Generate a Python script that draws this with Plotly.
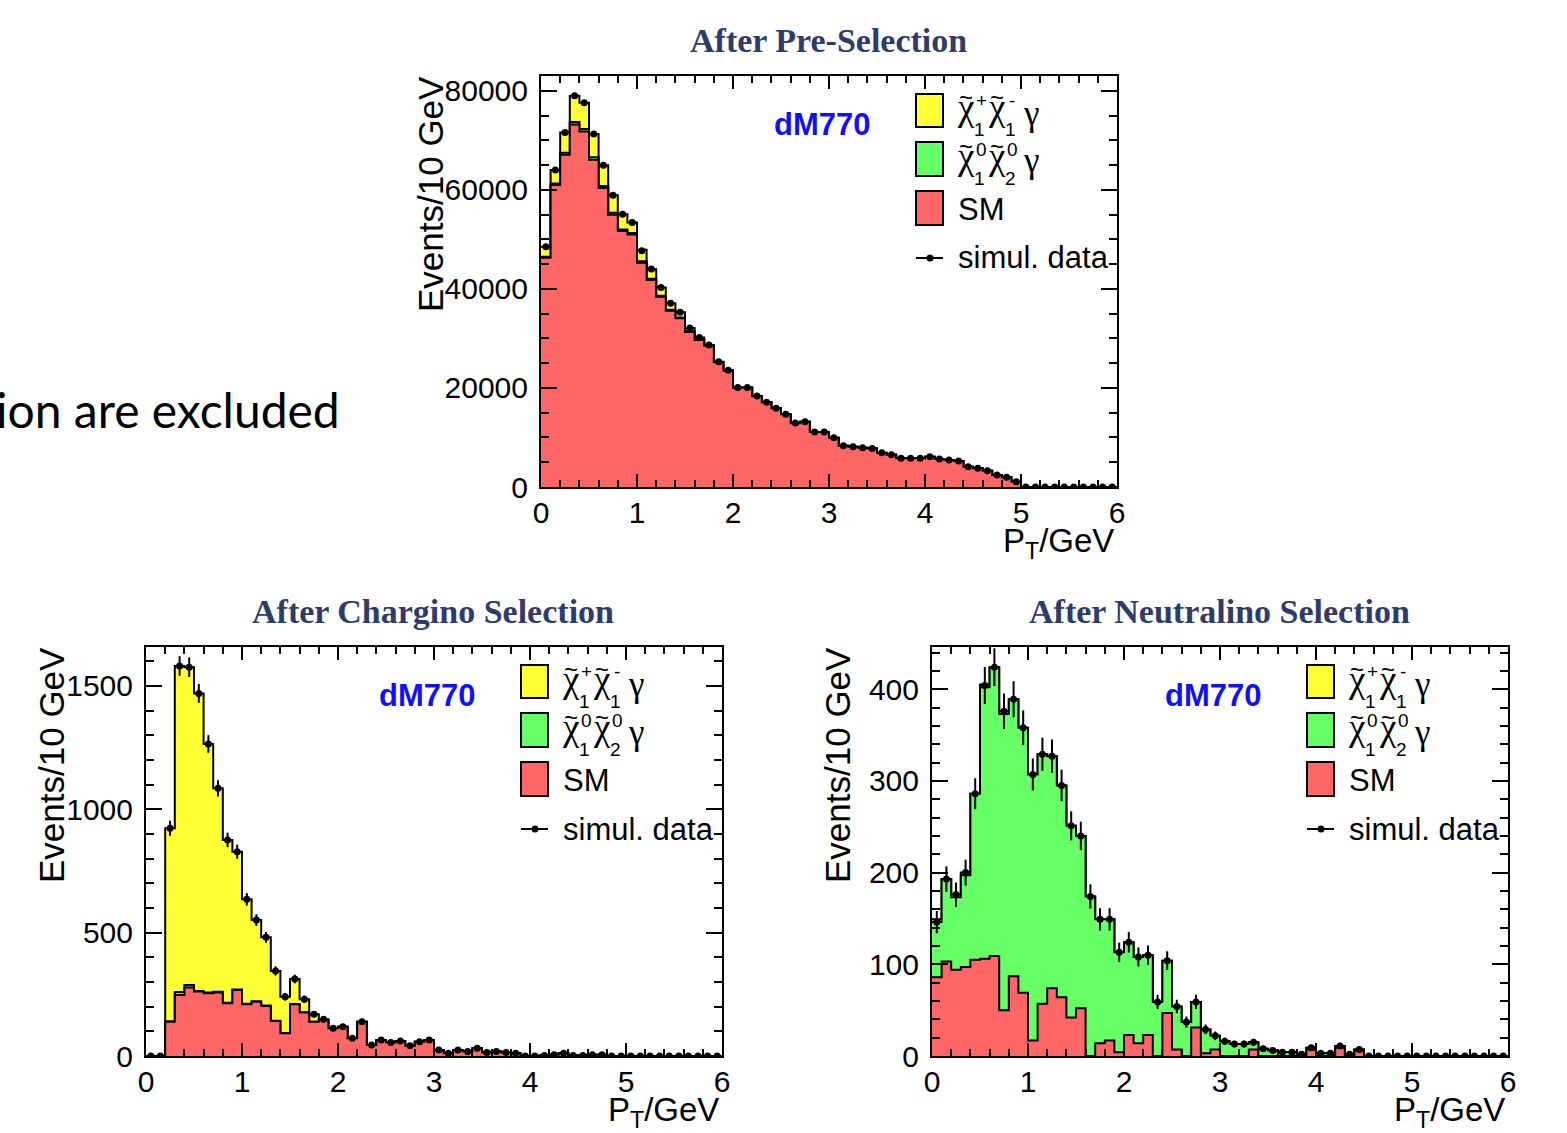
import numpy as np
import plotly.graph_objects as go

W, H = 1567, 1133

# 60 bins of 0.1 GeV between 0 and 6 GeV
bin_edges = np.round(np.linspace(0.0, 6.0, 61), 2)
bin_centers = np.round((bin_edges[:-1] + bin_edges[1:]) / 2, 3)

# ---------------- After Pre-Selection ----------------
pre_sm = [46300, 61000, 67100, 73200, 71800, 66100, 60400, 55000, 51700, 51000,
          45300, 41800, 38400, 35600, 34100, 31300, 29700, 28500, 25200, 23500,
          20050, 20050, 18350, 17070, 15880, 14680, 12880, 13180, 11090, 11090,
          9950, 8340, 8140, 7940, 7790, 6890, 6490, 5790, 5790, 5790,
          6090, 5640, 5440, 5240, 4090, 3790, 3290, 2390, 1940, 1060] + [0] * 10
pre_neutralino = [200, 300, 400, 500, 500, 500, 400, 400, 300, 300,
                  300, 250, 200, 200, 150, 150, 100, 100, 50, 50,
                  30, 30, 20, 20, 10, 10, 10, 10, 5, 5] + [5] * 20 + [0] * 10
pre_chargino = [2000, 2700, 4100, 5300, 5300, 4700, 4200, 3500, 3100, 2100,
                2300, 1900, 1700, 1300, 1050, 650, 400, 100, 50, 50,
                20, 20, 10, 10, 10, 10, 10, 10, 5, 5] + [5] * 20 + [0] * 10
pre_data = [48500, 64000, 71600, 79000, 77600, 71300, 65000, 58900, 55100, 53400,
            47700, 44000, 40300, 37100, 35300, 32100, 30200, 28700, 25300, 23600,
            20100, 20100, 18400, 17100, 15900, 14700, 12900, 13200, 11100, 11100,
            9960, 8350, 8150, 7950, 7800, 6900, 6500, 5800, 5800, 5800,
            6100, 5650, 5450, 5250, 4100, 3800, 3300, 2400, 1950, 1070] + [0] * 10

# ---------------- After Chargino Selection ----------------
chs_sm = [0, 0, 139, 247, 278, 261, 254, 257, 214, 268,
          210, 220, 203, 142, 92, 210, 176, 139, 146, 112,
          119, 72, 139, 45, 65, 55, 61, 42, 58, 65,
          24, 11, 24, 18, 31, 14, 18, 14, 11, 0,
          0, 2, 5, 11, 2, 2, 5, 5, 0, 0] + [0] * 10
chs_neutralino = [0, 0, 2, 12, 10, 3, 3, 3, 2, 2,
                  2, 2, 2, 1, 1, 1, 1, 0, 0, 0] + [0] * 40
chs_chargino = [0, 0, 782, 1322, 1288, 1206, 1008, 825, 660, 558,
                423, 329, 276, 202, 147, 101, 53, 30, 3, 0] + [0] * 40
chs_data = [0, 0, 923, 1581, 1576, 1470, 1265, 1085, 876, 828,
            635, 551, 481, 345, 240, 312, 230, 169, 149, 112,
            119, 72, 139, 45, 65, 55, 61, 42, 58, 65,
            24, 11, 24, 18, 31, 14, 18, 14, 11, 0,
            0, 2, 5, 11, 2, 2, 5, 5, 0, 0] + [0] * 10

# ---------------- After Neutralino Selection ----------------
nes_sm = [86, 103, 94, 97, 105, 106, 109, 50, 87, 69,
          17, 57, 74, 64, 42, 52, 0, 14, 17, 4,
          23, 14, 23, 0, 47, 7, 0, 31, 3, 7,
          0, 0, 0, 7, 0, 0, 0, 0, 0, 7,
          0, 0, 9, 0, 6, 0, 0, 0, 0, 0] + [0] * 10
nes_neutralino = [60, 90, 79, 100, 181, 296, 315, 323, 302, 289,
                  290, 272, 253, 231, 209, 188, 174, 135, 132, 109,
                  101, 94, 87, 59, 57, 47, 37, 28, 26, 15,
                  16, 13, 13, 8, 8, 6, 4, 4, 2, 2,
                  3, 3, 2, 2, 1, 0, 0, 0, 0, 0] + [0] * 10
nes_chargino = [3, 0, 3, 3, 0, 3, 0, 3, 0, 0] + [0] * 50
nes_data = [146, 193, 176, 200, 286, 404, 424, 376, 389, 358,
            307, 329, 327, 295, 251, 240, 174, 149, 149, 113,
            124, 108, 110, 59, 104, 54, 37, 59, 29, 22,
            16, 13, 13, 15, 8, 6, 4, 4, 2, 9,
            3, 3, 11, 2, 7, 0, 0, 0, 0, 0] + [0] * 10

# Panels: title, arrays, frame in page pixels (left, right, top, bottom), y range, ticks
panels = [
    dict(title="After Pre-Selection", sm=pre_sm, neu=pre_neutralino, chg=pre_chargino,
         data=pre_data, frame=(541, 1117, 76, 487), yrange=83000, ydtick=20000,
         yminor=5000, ytitle_dx=111),
    dict(title="After Chargino Selection", sm=chs_sm, neu=chs_neutralino, chg=chs_chargino,
         data=chs_data, frame=(146, 722, 647, 1056), yrange=1658, ydtick=500,
         yminor=100, ytitle_dx=95),
    dict(title="After Neutralino Selection", sm=nes_sm, neu=nes_neutralino, chg=nes_chargino,
         data=nes_data, frame=(932, 1508, 647, 1056), yrange=446, ydtick=100,
         yminor=20, ytitle_dx=95),
]

YELLOW = "#ffff33"
GREEN = "#66ff66"
RED = "#ff6666"
TITLE_COLOR = "#2e3b6b"
SANS = "Liberation Sans, Arial, sans-serif"
SERIF = "Liberation Serif, Times New Roman, serif"


def px(x):
    return x / W


def py(y):
    return 1 - y / H


def label(x, y, text, size, family=SANS, color="black", xanchor="center", angle=0):
    return dict(x=px(x), y=py(y), xref="paper", yref="paper", text=text,
                xanchor=xanchor, yanchor="middle", showarrow=False, textangle=angle,
                font=dict(family=family, size=size, color=color))


fig = go.Figure()
annotations = []
shapes = []

for i, p in enumerate(panels):
    n = "" if i == 0 else str(i + 1)
    xa, ya = "x" + n, "y" + n
    L, R, T, B = p["frame"]

    sm = np.array(p["sm"], dtype=float)
    neu = np.array(p["neu"], dtype=float)
    chg = np.array(p["chg"], dtype=float)
    data = np.array(p["data"], dtype=float)

    # stacked histograms: SM at the bottom, neutralino, then chargino on top
    stack_levels = [(sm + neu + chg, YELLOW), (sm + neu, GREEN), (sm, RED)]
    for level, colour in stack_levels:
        fig.add_trace(go.Scatter(
            x=bin_edges, y=np.append(level, level[-1]), mode="lines",
            line=dict(shape="hv", color="black", width=2),
            fill="tozeroy", fillcolor=colour, hoverinfo="skip",
            showlegend=False, xaxis=xa, yaxis=ya))

    fig.add_trace(go.Scatter(
        x=bin_centers, y=data, mode="markers",
        marker=dict(size=7, color="black"),
        error_y=dict(type="data", array=np.sqrt(data), width=0, thickness=2, color="black"),
        showlegend=False, xaxis=xa, yaxis=ya))

    axis_common = dict(showline=True, linewidth=2, linecolor="black", mirror="ticks",
                       ticks="inside", tickwidth=2, tickcolor="black", showgrid=False,
                       zeroline=False, automargin=False,
                       tickfont=dict(family=SANS, size=30, color="black"))
    fig.layout["xaxis" + n] = dict(
        axis_common, domain=[px(L), px(R)], anchor=ya, range=[0, 6], dtick=1, tick0=0,
        ticklen=13, ticklabelstandoff=-2,
        minor=dict(dtick=0.2, ticklen=7, tickwidth=2, tickcolor="black", ticks="inside"))
    fig.layout["yaxis" + n] = dict(
        axis_common, domain=[py(B), py(T)], anchor=xa, range=[0, p["yrange"]],
        dtick=p["ydtick"], tick0=0, tickformat="d", ticklen=16, ticklabelstandoff=5,
        minor=dict(dtick=p["yminor"], ticklen=8, tickwidth=2, tickcolor="black",
                   ticks="inside"))

    # panel title and sample label
    annotations.append(label(L + 287, T - 36, "<b>" + p["title"] + "</b>", 34,
                             family=SERIF, color=TITLE_COLOR))
    annotations.append(label(L + 281, T + 48, "<b>dM770</b>", 31, color="#1010ff"))

    # axis titles
    annotations.append(label(R - 1, B + 56, "P<sub>T</sub>/GeV", 33, xanchor="right"))
    ytitle = label(L - p["ytitle_dx"], T - 2, "Events/10 GeV", 35, angle=-90)
    ytitle["yanchor"] = "top"
    annotations.append(ytitle)

    # legend boxes
    for (y0, y1), colour in zip([(18, 51), (66, 100), (115, 149)], [YELLOW, GREEN, RED]):
        shapes.append(dict(type="rect", xref="paper", yref="paper",
                           x0=px(L + 375), x1=px(L + 402), y0=py(T + y1), y1=py(T + y0),
                           fillcolor=colour, line=dict(color="black", width=2)))
    shapes.append(dict(type="line", xref="paper", yref="paper",
                       x0=px(L + 375), x1=px(L + 402), y0=py(T + 182), y1=py(T + 182),
                       line=dict(color="black", width=2)))
    shapes.append(dict(type="circle", xref="paper", yref="paper",
                       x0=px(L + 385.5), x1=px(L + 392.5), y0=py(T + 185.5), y1=py(T + 178.5),
                       fillcolor="black", line=dict(color="black", width=0)))

    # legend labels: tilde-chi symbols with stacked sub/superscripts
    chi_rows = [(T + 36, ("+", "1"), ("-", "1")), (T + 84, ("0", "1"), ("0", "2"))]
    for row, (sup1, sub1), (sup2, sub2) in chi_rows:
        for cx, sup, sub in [(L + 425, sup1, sub1), (L + 456, sup2, sub2)]:
            annotations.append(label(cx, row - 4, "\u03c7", 37, family=SERIF))
            annotations.append(label(cx, row - 14, "~", 24))
            annotations.append(label(cx + 15, row - 11, sup, 19))
            annotations.append(label(cx + 13, row + 18, sub, 19))
        annotations.append(label(L + 490, row + 1, "\u03b3", 35, family=SERIF))
    annotations.append(label(L + 415, T + 133, "SM", 31, xanchor="left"))
    annotations.append(label(L + 415, T + 182, "simul. data", 31, xanchor="left"))

# slide text next to the upper panel
annotations.append(label(342, 410, "ion are excluded", 48,
                         family="Lato, sans-serif", xanchor="right"))

fig.update_layout(template="none", width=W, height=H, autosize=False,
                  margin=dict(l=0, r=0, t=0, b=0, pad=0),
                  paper_bgcolor="white", plot_bgcolor="white",
                  showlegend=False, annotations=annotations, shapes=shapes)

fig.write_html("out.html")
